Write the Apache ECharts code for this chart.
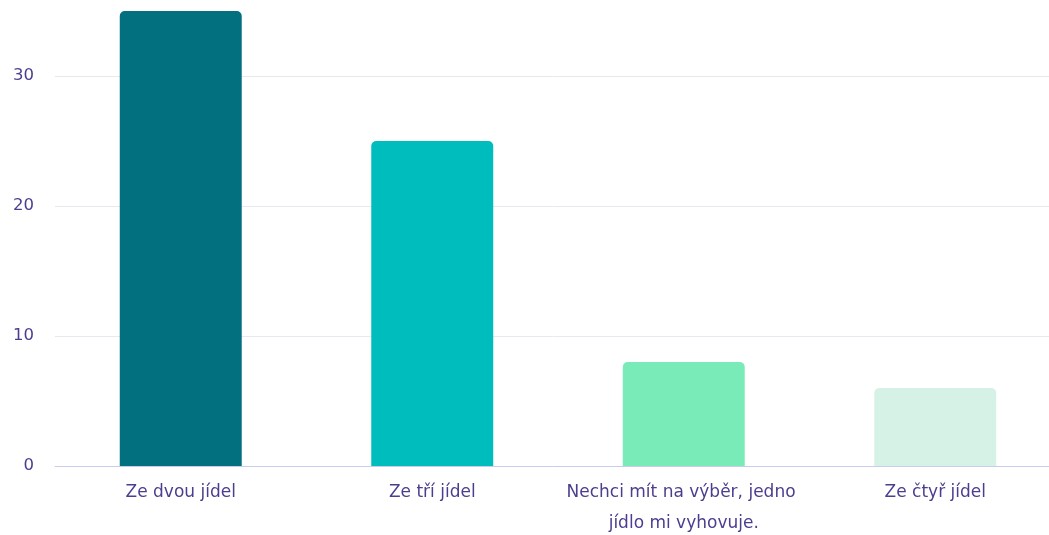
<!DOCTYPE html>
<html>
<head>
<meta charset="utf-8">
<script src="https://cdn.jsdelivr.net/npm/echarts@6/dist/echarts.min.js"></script>
<style>
    html, body { margin: 0; padding: 0; background: #fff; }
    #chart { width: 1049px; height: 535px; }
</style>
</head>
<body>
<div id="chart"></div>
<script>
const categories = ['Ze dvou jídel', 'Ze tří jídel', 'Nechci mít na výběr, jedno jídlo mi vyhovuje.', 'Ze čtyř jídel'];
const values = [35, 25, 8, 6];
const barColors = ['#02707f', '#00bdbd', '#78ebb9', '#d6f2e6'];

const chart = echarts.init(document.getElementById('chart'));
const textColor = '#4e3d8f';
const font = 'DejaVu Sans';

chart.setOption({
    backgroundColor: '#fff',
    animation: false,
    grid: { top: 11, bottom: 69, left: 55, right: -12, outerBoundsMode: 'none' },
    xAxis: {
        type: 'category',
        data: categories,
        axisTick: { show: false },
        axisLine: { lineStyle: { color: '#c8cdee', width: 1 } },
        axisLabel: {
            color: textColor, fontSize: 17, fontFamily: font,
            margin: 11, lineHeight: 31,
            width: 268, overflow: 'break', interval: 0,
        },
    },
    yAxis: {
        type: 'value',
        min: 0, max: 35, interval: 10,
        axisLabel: { color: textColor, fontSize: 16.5, fontFamily: font, margin: 21, showMaxLabel: false },
        splitLine: { showMaxLine: false, lineStyle: { color: '#e8e8ee', width: 1 } },
        axisLine: { show: false },
        axisTick: { show: false },
    },
    series: [{
        type: 'bar',
        barWidth: '48.5%',
        data: values.map((v, i) => ({ value: v, itemStyle: { color: barColors[i] } })),
        itemStyle: { borderRadius: [5, 5, 0, 0] },
    }],
});
</script>
</body>
</html>
